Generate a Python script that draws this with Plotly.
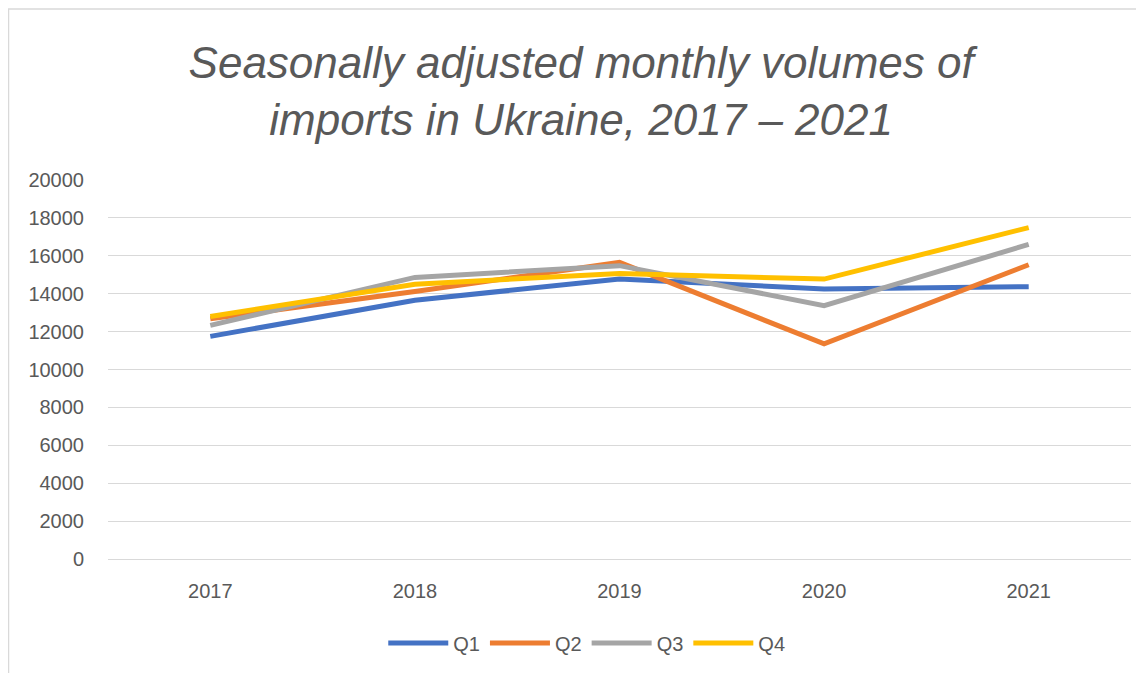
import plotly.graph_objects as go

years = ["2017", "2018", "2019", "2020", "2021"]
q1 = [11750, 13650, 14780, 14250, 14370]
q2 = [12680, 14120, 15650, 11350, 15530]
q3 = [12330, 14860, 15480, 13370, 16600]
q4 = [12800, 14500, 15070, 14770, 17490]
series_names = ["Q1", "Q2", "Q3", "Q4"]
series_values = [q1, q2, q3, q4]
colors = ["#4472C4", "#ED7D31", "#A5A5A5", "#FFC000"]
y_ticks = list(range(0, 20001, 2000))

fig = go.Figure()
for name, vals, c in zip(series_names, series_values, colors):
    fig.add_trace(go.Scatter(x=years, y=vals, name=name, mode="lines",
                             line=dict(color=c, width=5)))

fig.update_layout(
    width=1144, height=673,
    margin=dict(l=100, r=21, t=172, b=122),
    paper_bgcolor="white", plot_bgcolor="white",
    font=dict(family="Liberation Sans, Arial, sans-serif", color="#595959", size=20),
    title=dict(text="Seasonally adjusted monthly volumes of<br>imports in Ukraine, 2017 – 2021",
               x=0.501, xanchor="center", xref="container",
               y=1 - 70 / 673, yanchor="middle", yref="container",
               font=dict(family="Liberation Sans, Arial, sans-serif", size=44, color="#595959",
                         style="italic")),
    legend=dict(orientation="h", x=0.468, xanchor="center", y=-0.2216, yanchor="middle",
                font=dict(size=20, color="#595959"), itemwidth=60, tracegroupgap=0),
    showlegend=True,
)
fig.update_xaxes(type="category", range=[-0.5, 4.5], showgrid=False, showline=True,
                 linecolor="#d9d9d9", linewidth=1, ticks="",
                 tickfont=dict(size=20, color="#595959"), ticklabelstandoff=14)
fig.update_yaxes(range=[0, 20000], tickvals=y_ticks, tickformat="d", showgrid=True,
                 gridcolor="#d9d9d9", gridwidth=1, zeroline=False, showline=False, ticks="",
                 tickfont=dict(size=20, color="#595959"), ticklabelstandoff=23)

fig.add_shape(type="rect", xref="paper", yref="paper",
              x0=(0.5 - 100) / 1023, x1=(1150 - 100) / 1023,
              y0=(551 - 690) / 379, y1=(551 - 1) / 379,
              line=dict(color="#d9d9d9", width=1.5), fillcolor="rgba(0,0,0,0)", layer="below")

fig.write_html("out.html")
